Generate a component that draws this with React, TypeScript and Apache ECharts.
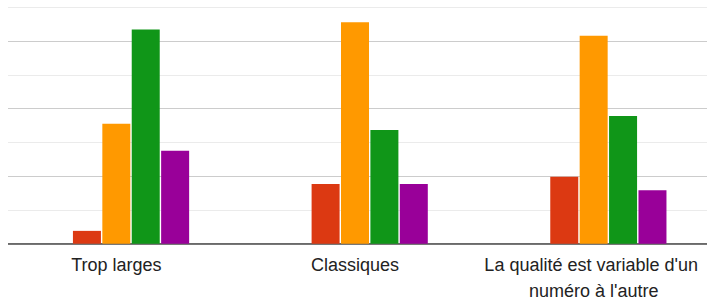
import React, { useEffect, useRef } from "react";
import * as echarts from "echarts";

const categories = ["Trop larges", "Classiques", "La qualité est variable d'un numéro à l'autre"];
const seriesNames = ["Série 1", "Série 2", "Série 3", "Série 4", "Série 5"];
const seriesColors = ["#3366cc", "#dc3912", "#ff9900", "#109618", "#990099"];
const blueValues = [0, 0, 0];
const redValues = [0.38, 1.77, 1.98];
const orangeValues = [3.55, 6.56, 6.16];
const greenValues = [6.34, 3.37, 3.78];
const purpleValues = [2.75, 1.77, 1.58];
const allValues = [blueValues, redValues, orangeValues, greenValues, purpleValues];

export default function App() {
  const ref = useRef<HTMLDivElement>(null);
  useEffect(() => {
    if (!ref.current) return;
    const chart = echarts.init(ref.current, null, { renderer: "svg" });
    chart.setOption({
      animation: false,
      backgroundColor: "#ffffff",
      grid: {
        left: -3,
        right: -6,
        top: 7.3,
        bottom: 62.3,
        containLabel: false,
        outerBoundsMode: "none",
      },
      xAxis: {
        type: "category",
        data: categories,
        axisTick: { show: false },
        axisLine: { show: true, lineStyle: { color: "#4a4a4a", width: 1.5 } },
        axisLabel: {
          interval: 0,
          color: "#222222",
          fontFamily: "Liberation Sans, Arial, sans-serif",
          fontSize: 18,
          lineHeight: 26,
          margin: 8,
          width: 228,
          overflow: "break",
        },
        splitLine: { show: false },
      },
      yAxis: {
        type: "value",
        min: 0,
        max: 7,
        interval: 1,
        axisLabel: { show: false },
        axisLine: { show: false },
        axisTick: { show: false },
        splitLine: {
          show: true,
          lineStyle: { color: ["#cccccc", "#ebebeb"], width: 1 },
        },
      },
      series: allValues.map((vals, i) => ({
        name: seriesNames[i],
        type: "bar",
        data: vals,
        barWidth: 28,
        barGap: "5%",
        itemStyle: { color: seriesColors[i] },
      })),
      graphic: [
        {
          type: "rect",
          z: 100,
          shape: { x: 0, y: 0, width: 8, height: 250 },
          style: { fill: "#ffffff" },
        },
      ],
    });
    return () => chart.dispose();
  }, []);
  return (
    <div
      ref={ref}
      style={{ position: "fixed", left: 0, top: 0, width: 707, height: 306 }}
    />
  );
}
